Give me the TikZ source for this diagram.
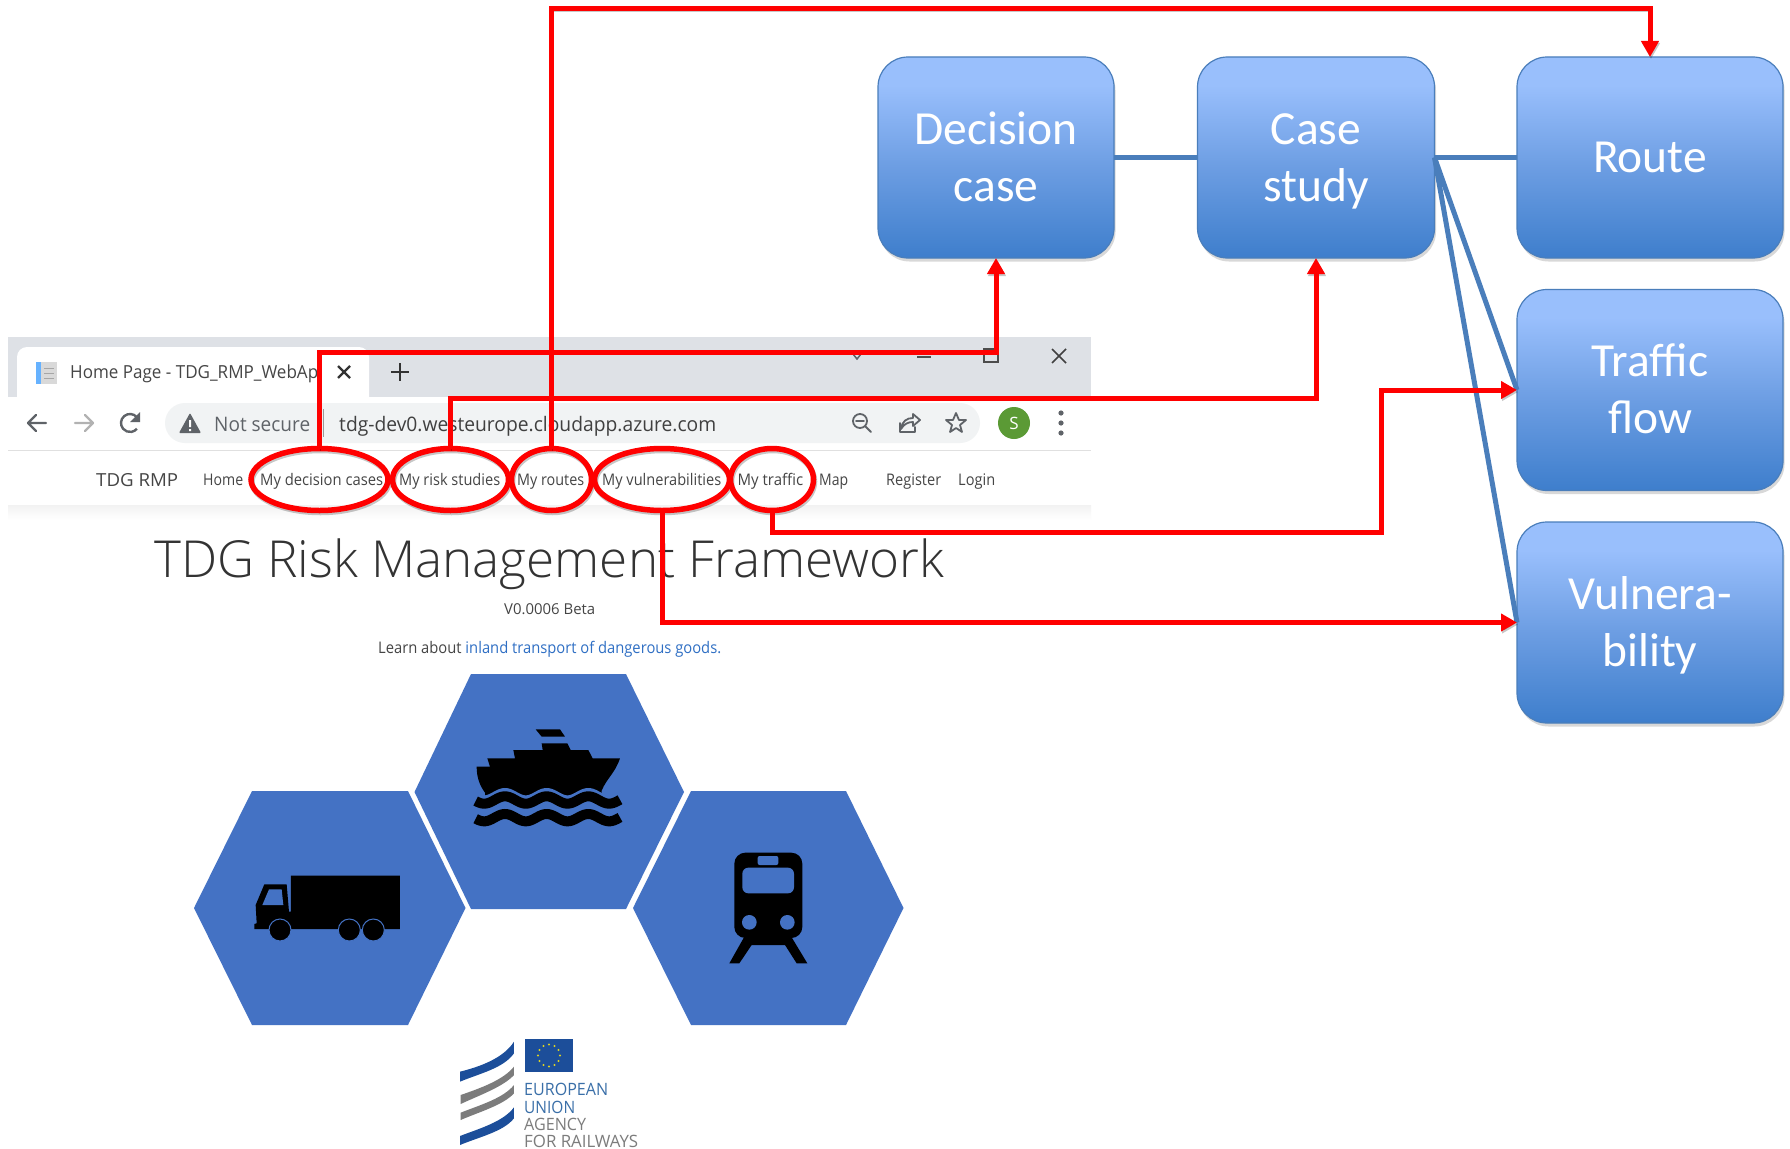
\documentclass[tikz,border=0pt]{standalone}
\usepackage{fontspec}
\usepackage{graphicx}
\usetikzlibrary{arrows.meta,shapes.geometric,shadows,calc}
\setmainfont{Open Sans}
\newfontfamily\boxfont{Carlito}
\newfontfamily\titlefont{Open Sans Light}
\newsavebox\fitbox
\newcommand{\fitx}[2]{\sbox\fitbox{#2}\pgfmathsetmacro\fitr{#1/\the\wd\fitbox}\scalebox{\fitr}[1]{\usebox\fitbox}}
\newcommand{\boxstrut}{\rule[-.178em]{0pt}{1em}}
\definecolor{hexblue}{HTML}{4472C4}
\definecolor{boxtop}{HTML}{99BFFC}
\definecolor{boxmid}{HTML}{6D9EE3}
\definecolor{boxbot}{HTML}{3E7ECC}
\definecolor{boxline}{HTML}{4A7EBB}
\definecolor{linkblue}{HTML}{2F6FC4}
\definecolor{chromegray}{HTML}{DEE1E6}
\definecolor{pill}{HTML}{F1F3F4}
\definecolor{iconcol}{HTML}{5F6368}
\definecolor{navtxt}{HTML}{454545}
\definecolor{avatargreen}{HTML}{5B9A35}
\definecolor{eublue}{HTML}{1C4E9A}
\definecolor{eutxt}{HTML}{3A6FA8}
\definecolor{agtxt}{HTML}{7C7C7C}
\pgfdeclareverticalshading{entityshade}{100bp}{color(0bp)=(boxbot); color(25bp)=(boxbot); color(48bp)=(boxmid); color(68bp)=(boxtop); color(100bp)=(boxtop)}
\tikzset{
  x=1pt,y=-1pt,
  entity/.style={draw=boxline,line width=1.2pt,rounded corners=30pt,shading=entityshade,
    minimum width=236pt,minimum height=201pt,inner sep=0pt,outer sep=0pt,text=white,align=center,
    font=\boxfont\fontsize{47.5}{57}\selectfont,drop shadow={shadow xshift=1.5pt,shadow yshift=-3.5pt,opacity=.3}},
  tallentity/.style={entity,minimum width=266pt},
  bluelink/.style={draw=boxline,line width=5pt},
  redshadow/.style={preaction={draw=black,opacity=.22,transform canvas={xshift=1pt,yshift=-2pt}}},
  redlink/.style={draw=red,line width=5pt,line join=miter,redshadow},
  redarrow/.style={redlink,-{Triangle[width=17pt,length=16pt]}},
  ring/.style={shape=ellipse,draw=red,line width=5.5pt,inner sep=0pt,outer sep=0pt,minimum height=62pt,redshadow},
  navitem/.style={anchor=base west,inner sep=0pt,text=navtxt,font=\fontsize{16}{18}\selectfont},
  hex/.style={fill=hexblue},
  ink/.style={fill=black},
  chromeicon/.style={draw=iconcol,line width=2.4pt,line cap=round,line join=round},
  logoscope/.style={shift={(440,1030)},xscale=0.3333,yscale=0.3333},
  trainscope/.style={shift={(700,830)},xscale=0.3333,yscale=0.3333},
  shipscope/.style={shift={(460,720)},xscale=0.3333,yscale=0.3333},
  truckscope/.style={shift={(245,860)},xscale=0.3333,yscale=0.3333},
}
\begin{document}
\begin{tikzpicture}
\useasboundingbox (0,0) rectangle (1790,1148);
\fill[white] (0,0) rectangle (1790,1148);

% browser chrome
\fill[chromegray] (8,337) rectangle (1091,397);
\fill[white] (8,397) rectangle (1091,505);
\fill[white,rounded corners=10pt] (17,410) -- (17,347) -- (369,347) -- (369,410) -- cycle;
\fill[pill,rounded corners=20pt] (165,403) rectangle (980,443);
\draw[black!12,line width=1pt] (8,450) -- (1091,450);
\draw[black!10,line width=1pt] (8,505) -- (1091,505);
\shade[top color=black!5,bottom color=white] (8,505) rectangle (1091,520);

% favicon
\fill[black!15] (36,362) rectangle (57,384);
\fill[blue!50!cyan!60] (36,362) rectangle (41,384);
\draw[black!35,line width=1pt] (44,368) -- (54,368) (44,373) -- (54,373) (44,378) -- (54,378);
\node[anchor=base west,inner sep=0pt,text=navtxt,font=\fontsize{18}{20}\selectfont] (tabtitle) at (70,378) {\fitx{248}{Home Page - TDG\_RMP\_WebAp}};
\draw[black!80,line width=2.4pt] (338,366) -- (350,378) (350,366) -- (338,378);
\draw[black!80,line width=2.8pt] (391,372) -- (409,372) (400,363) -- (400,381);
% window controls
\draw[iconcol,line width=1.5pt] (853,354) -- (857,359) -- (861,354);
\draw[black!70,line width=1.5pt] (917,357) -- (931,357);
\draw[black!70,line width=1.5pt] (984,349) rectangle (998,362);
\draw[black!75,line width=1.6pt] (1052,349) -- (1066,363) (1066,349) -- (1052,363);
% toolbar
\draw[chromeicon] (46,423) -- (28,423) (36,415) -- (28,423) -- (36,431);
\draw[chromeicon,draw=black!30] (75,423) -- (93,423) (85,415) -- (93,423) -- (85,431);
\draw[chromeicon,line cap=butt] (136.9,417.2) arc[start angle=40,end angle=320,radius=9pt];
\fill[iconcol] (140,412) -- (140,422) -- (130,422) -- cycle;
\fill[iconcol,rounded corners=1pt] (190,413) -- (201,433) -- (179,433) -- cycle;
\fill[white] (189,420) rectangle (191,427) (189,429) rectangle (191,431);
\node[anchor=base west,inner sep=0pt,text=iconcol,font=\fontsize{20}{22}\selectfont] (notsecure) at (214,431) {\fitx{96}{Not secure}};
\draw[black!40,line width=1pt] (323,409) -- (323,437);
\node[anchor=base west,inner sep=0pt,text=black!75,font=\fontsize{20}{22}\selectfont] (urltext) at (339,431) {\fitx{377}{tdg-dev0.westeurope.cloudapp.azure.com}};
\draw[chromeicon,line width=1.8pt] (860,421) circle[radius=7pt] (856,421) -- (864,421) (865,426) -- (871,432);
\draw[chromeicon,line width=1.8pt] (900,423) -- (900,432) -- (915,432) -- (915,427) (901,429) .. controls (902,421) and (907,418) .. (913,418) -- (913,414) -- (920,420) -- (913,426) -- (913,422) .. controls (908,422) and (904,424) .. (901,429);
\draw[chromeicon,line width=1.8pt] (956,413) -- (959,420) -- (966,420) -- (960,425) -- (962,432) -- (956,428) -- (950,432) -- (952,425) -- (946,420) -- (953,420) -- cycle;
\fill[avatargreen] (1014,423) circle[radius=16pt];
\node[text=white,inner sep=0pt,font=\fontsize{17}{18}\selectfont] (avatar) at (1014,423) {S};
\fill[iconcol] (1061,413) circle[radius=2.6pt] (1061,423) circle[radius=2.6pt] (1061,433) circle[radius=2.6pt];

% navigation
\node[navitem,font=\fontsize{18}{20}\selectfont] (nrmp) at (96,486) {\fitx{82}{TDG RMP}};
\node[navitem] (nhome) at (203,485) {\fitx{40}{Home}};
\node[navitem] (ndec) at (260,485) {\fitx{123}{My decision cases}};
\node[navitem] (nstu) at (399,485) {\fitx{101}{My risk studies}};
\node[navitem] (nrou) at (517,485) {\fitx{67}{My routes}};
\node[navitem] (nvul) at (602,485) {\fitx{119}{My vulnerabilities}};
\node[navitem] (ntra) at (737.5,485) {\fitx{65.5}{My traffic}};
\node[navitem] (nmap) at (819,485) {\fitx{29}{Map}};
\node[navitem] (nreg) at (886,485) {\fitx{55}{Register}};
\node[navitem] (nlog) at (958,485) {\fitx{37}{Login}};

% page text
\node[anchor=base west,inner sep=0pt,text=black!80,font=\titlefont\fontsize{51}{56}\selectfont] (title) at (154,577) {\fitx{790}{TDG Risk Management Framework}};
\node[anchor=base west,inner sep=0pt,text=navtxt,font=\fontsize{15}{18}\selectfont] (version) at (504,614) {\fitx{91}{V0.0006 Beta}};
\node[anchor=base west,inner sep=0pt,text=navtxt,font=\fontsize{16}{18}\selectfont] (learn) at (378,653) {\fitx{343}{Learn about \textcolor{linkblue}{inland transport of dangerous goods.}}};

% hexagons
\fill[hex] (414.5,792) -- (471,674) -- (626,674) -- (684,792) -- (626,909) -- (471,909) -- cycle;
\fill[hex] (194,908) -- (252,791) -- (408,791) -- (465.5,908) -- (408,1025) -- (252,1025) -- cycle;
\fill[hex] (633,908) -- (691,791) -- (846,791) -- (903.5,908) -- (846,1025) -- (691,1025) -- cycle;

% truck
\begin{scope}[truckscope]
\fill[ink] (138,47) -- (465,47) -- (465,207) -- (28,207) -- (28,192) -- (35,190) -- (32,135) -- (58,73) -- (125,73) -- (132,155) -- (138,155) -- cycle;
\fill[hexblue] (52,135) -- (115,135) -- (110,88) -- (72,88) -- cycle;
\filldraw[fill=black,draw=hexblue,line width=1pt] (105,210) circle[radius=33];
\filldraw[fill=black,draw=hexblue,line width=1pt] (313,210) circle[radius=33];
\filldraw[fill=black,draw=hexblue,line width=1pt] (385,210) circle[radius=33];
\end{scope}
% ship
\begin{scope}[shipscope]
\fill[ink] (227,28) -- (300,28) -- (315,50) -- (245,50) -- cycle;
\fill[ink] (245,70) -- (322,70) -- (332,90) -- (385,90) -- (398,115) -- (480,115)
  .. controls (465,160) and (440,175) .. (425,212) -- (425,228) -- (75,228) -- (75,218)
  .. controls (58,195) and (50,170) .. (50,140) -- (90,140) -- (82,115) -- (165,115) -- (160,90) -- (248,90) -- cycle;
\draw[hexblue,line width=6pt] plot[domain=47:480,samples=90] (\x,{224-11*cos((\x-135)*2.88)});
\draw[black,line width=10pt] plot[domain=47:480,samples=90] (\x,{240-11*cos((\x-135)*2.88)});
\draw[black,line width=10pt] plot[domain=47:480,samples=90] (\x,{293-11*cos((\x-135)*2.88)});
\end{scope}
% train
\begin{scope}[trainscope]
\fill[ink] (132,322) -- (88,400) -- (118,400) -- (155,345) -- (255,345) -- (290,400) -- (322,400) -- (275,322) -- cycle;
\fill[ink,rounded corners=11pt] (103,68) rectangle (307,324);
\fill[hexblue,rounded corners=2pt] (173,78) rectangle (235,105);
\fill[hexblue,rounded corners=6pt] (127,113) rectangle (282,190);
\fill[hexblue] (148,277) circle[radius=22];
\fill[hexblue] (262,277) circle[radius=22];
\end{scope}

% logo
\fill[eublue] (525,1039) rectangle (573,1072);
\foreach \a in {0,30,...,330}
  \fill[yellow!85!black] ($(549,1055.5)+(\a:11pt)$) circle[radius=1.1pt];
\begin{scope}[logoscope]
\fill[eublue] (60,125) .. controls (120,110) and (190,85) .. (222,35) -- (222,70) .. controls (190,115) and (120,130) .. (60,155) -- cycle;
\fill[agtxt] (62,195) .. controls (120,175) and (190,150) .. (222,110) -- (222,135) .. controls (190,170) and (120,195) .. (62,222) -- cycle;
\fill[agtxt] (62,248) .. controls (120,225) and (190,205) .. (222,165) -- (222,190) .. controls (190,225) and (120,245) .. (62,270) -- cycle;
\fill[eublue] (60,318) .. controls (120,295) and (190,275) .. (222,232) -- (222,265) .. controls (190,305) and (120,320) .. (60,345) -- cycle;
\end{scope}
\node[anchor=base west,inner sep=0pt,text=eutxt,font=\fontsize{17}{18}\selectfont] (eu1) at (524,1095) {\fitx{84}{EUROPEAN}};
\node[anchor=base west,inner sep=0pt,text=eutxt,font=\fontsize{17}{18}\selectfont] (eu2) at (524,1113) {\fitx{51}{UNION}};
\node[anchor=base west,inner sep=0pt,text=agtxt,font=\fontsize{17}{18}\selectfont] (eu3) at (524,1130) {\fitx{62}{AGENCY}};
\node[anchor=base west,inner sep=0pt,text=agtxt,font=\fontsize{17}{18}\selectfont] (eu4) at (524,1147) {\fitx{114}{FOR RAILWAYS}};

\coordinate (dec0) at (996,157.5);
\coordinate (stu0) at (1316,157.5);
\coordinate (rou0) at (1650,157.5);
\coordinate (tra0) at (1650,390);
\coordinate (vul0) at (1650,622.5);

% entity boxes
\node[entity] (dec) at (dec0) {\boxstrut Decision\\\boxstrut case};
\node[entity,minimum width=237pt] (study) at (stu0) {\boxstrut Case\\\boxstrut study};
\node[tallentity] (route) at (rou0) {\boxstrut Route};
\node[tallentity] (traffic) at (tra0) {\boxstrut Traffic\\\boxstrut flow};
\node[tallentity] (vuln) at (vul0) {\boxstrut Vulnera-\\\boxstrut bility};

\draw[bluelink] (dec.east) -- (study.west);
\draw[bluelink] (study.east) -- (route.west);
\draw[bluelink] (study.east) -- (traffic.west);
\draw[bluelink] (study.east) -- (vuln.west);

% rings
\node[ring,minimum width=137pt] (edec) at (319.5,479.5) {};
\node[ring,minimum width=116pt] (estu) at (450.5,479.5) {};
\node[ring,minimum width=80pt] (erou) at (551.5,479.5) {};
\node[ring,minimum width=135pt] (evul) at (662,479.5) {};
\node[ring,minimum width=83pt] (etra) at (772,479.5) {};

% red connectors
\coordinate (dbend) at (996,352);
\coordinate (sbend) at (1316,398);
\coordinate (rbend) at (1650,9);
\coordinate (tbend) at (1381,532);
\draw[redarrow] (edec.north) |- (dbend) -- (dec.south);
\draw[redarrow] (estu.north) |- (sbend) -- (study.south);
\draw[redarrow] (erou.north) |- (rbend) -- (route.north);
\draw[redarrow] (etra.south) |- (tbend) |- (traffic.west);
\draw[redarrow] (evul.south) |- (vuln.west);
\end{tikzpicture}
\end{document}
